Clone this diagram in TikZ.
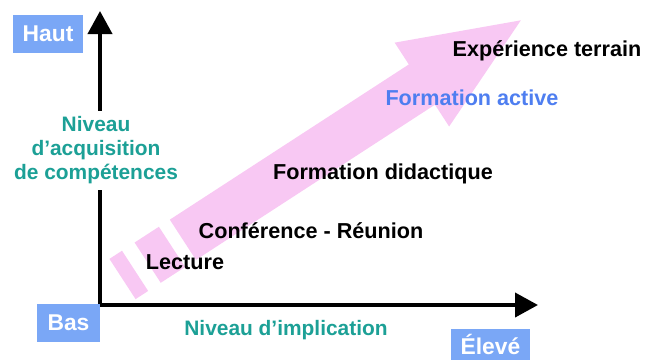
\documentclass[tikz,border=0pt]{standalone}
\usepackage{fontspec}
\setmainfont{Liberation Sans}
\usepackage{tikz}
\usetikzlibrary{positioning}
\usetikzlibrary{arrows.meta}
\definecolor{arrowpink}{RGB}{248,200,243}
\definecolor{boxblue}{RGB}{122,167,246}
\definecolor{levelteal}{RGB}{28,160,150}
\definecolor{activeblue}{RGB}{78,126,240}

\begin{document}
\begin{tikzpicture}[x=0.02cm, y=-0.02cm,
		axis/.style={line width=2.3pt, line join=miter, {Triangle[length=0.46cm,width=0.48cm]}-{Triangle[length=0.46cm,width=0.48cm]}},
		endbox/.style={fill=boxblue, text=white, font=\fontsize{13}{15}\selectfont\bfseries, inner sep=0pt, minimum height=0.76cm},
		level/.style={text=levelteal, font=\fontsize{11.9}{13.6}\selectfont\bfseries, align=center},
		stage/.style={font=\fontsize{12.3}{14}\selectfont\bfseries}]
		\useasboundingbox (0,0) rectangle (657,360);
		% big pink arrow
		\begin{scope}[shift={(122.5,279)}, rotate=33]
			\fill[arrowpink] (0,-24) rectangle (15,24);
			\fill[arrowpink] (30,-24) rectangle (59,24);
			\fill[arrowpink] (72,-24) -- (357,-24) -- (357,-50) -- (475,0) -- (357,50) -- (357,24) -- (72,24) -- cycle;
		\end{scope}
		% axes
		\coordinate (origin) at (100,305);
		\coordinate (ytip) at (100,11);
		\coordinate (xtip) at (538,305);
		\draw[axis] (ytip) -- (origin) -- (xtip);
		\node[endbox, minimum width=1.4cm] (haut) at (48,34) {Haut};
		\node[endbox, minimum width=1.26cm] (bas) at (68.5,323) {Bas};
		\node[endbox, minimum width=1.58cm, minimum height=0.62cm] (eleve) at (490.5,344.5) {Élevé};
		\node[level, fill=white] (acquisition) at (96,150) {Niveau\\d’acquisition\\de compétences};
		\node[level] (implication) at (286,330) {Niveau d’implication};
		% stages
		\node[stage] (lecture) at (185,262) {Lecture};
		\node[stage] (conference) at (311,231) {Conférence - Réunion};
		\node[stage] (didactique) at (383,174) {Formation didactique};
		\node[stage, text=activeblue] (active) at (472,98) {Formation active};
		\node[stage] (terrain) at (547,51) {Expérience terrain};
	\end{tikzpicture}
\end{document}
